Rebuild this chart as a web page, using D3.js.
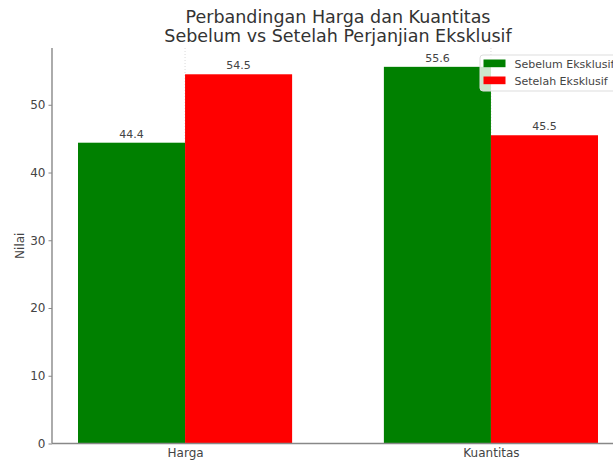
<!DOCTYPE html>
<html>
<head>
<meta charset="utf-8">
<script src="https://cdn.jsdelivr.net/npm/d3@7"></script>
<style>
  html, body { margin: 0; padding: 0; background: #fff; overflow: hidden; }
  svg { display: block; font-family: "DejaVu Sans", sans-serif; }
</style>
</head>
<body>
<svg id="chart" width="613" height="461"></svg>
<script>
const categories = ["Harga", "Kuantitas"];
const seriesNames = ["Sebelum Eksklusif", "Setelah Eksklusif"];
const sebelum = [44.4, 55.6];
const setelah = [54.5, 45.5];
const seriesColors = ["#008000", "#ff0000"];
const yTicks = [0, 10, 20, 30, 40, 50];
const titleLines = ["Perbandingan Harga dan Kuantitas", "Sebelum vs Setelah Perjanjian Eksklusif"];
const yLabel = "Nilai";

(function () {
const svg = d3.select("#chart");
const pLeft = 52, pRight = 624, pTop = 48, pBottom = 443.5;
const barW = 0.35;
const series = [sebelum, setelah];

const yMax = d3.max(series.flat()) * 1.05;
const y = d3.scaleLinear().domain([0, yMax]).range([pBottom, pTop]);
const span = categories.length - 1 + 2 * barW;
const x = d3.scaleLinear()
  .domain([-barW - 0.05 * span, categories.length - 1 + barW + 0.05 * span])
  .range([pLeft, pRight]);

// vertical dotted grid at category ticks
svg.append("g").selectAll("line").data(categories).join("line")
  .attr("x1", (d, i) => x(i)).attr("x2", (d, i) => x(i))
  .attr("y1", pTop).attr("y2", pBottom)
  .attr("stroke", "#cfcfcf").attr("stroke-width", 0.8)
  .attr("stroke-dasharray", "1,2");

// bars
series.forEach((vals, s) => {
  const off = s === 0 ? -barW : 0;
  svg.append("g").selectAll("rect").data(vals).join("rect")
    .attr("x", (d, i) => x(i + off))
    .attr("width", (d, i) => x(i + off + barW) - x(i + off))
    .attr("y", d => y(d))
    .attr("height", d => y(0) - y(d))
    .attr("fill", seriesColors[s]);
  svg.append("g").selectAll("text").data(vals).join("text")
    .attr("x", (d, i) => x(i + off + barW / 2))
    .attr("y", d => y(d) - 5)
    .attr("text-anchor", "middle")
    .attr("font-size", 11)
    .attr("fill", "#444")
    .text(d => d.toFixed(1));
});

// y axis
const yAxis = d3.axisLeft(y).tickValues(yTicks).tickSize(3.5).tickPadding(3).tickFormat(d3.format("d"));
const gy = svg.append("g").attr("transform", `translate(${pLeft},0)`).call(yAxis);
gy.select(".domain").remove();
gy.selectAll(".tick line").attr("stroke", "#888");
gy.selectAll(".tick text").attr("font-size", 12).attr("fill", "#444").attr("font-family", "DejaVu Sans, sans-serif");

// x axis
const xAxis = d3.axisBottom(x).tickValues(categories.map((d, i) => i)).tickSize(0).tickPadding(5)
  .tickFormat(i => categories[i]);
const gx = svg.append("g").attr("transform", `translate(0,${pBottom})`).call(xAxis);
gx.select(".domain").remove();
gx.selectAll(".tick text").attr("font-size", 12).attr("fill", "#444").attr("font-family", "DejaVu Sans, sans-serif");

// spines
svg.append("line").attr("x1", pLeft).attr("x2", pLeft).attr("y1", pTop).attr("y2", pBottom)
  .attr("stroke", "#888").attr("stroke-width", 1.4);
svg.append("line").attr("x1", pLeft).attr("x2", pRight).attr("y1", pBottom).attr("y2", pBottom)
  .attr("stroke", "#888").attr("stroke-width", 1.4);

// y label
svg.append("text")
  .attr("transform", `translate(23.5,${(pTop + pBottom) / 2}) rotate(-90)`)
  .attr("text-anchor", "middle")
  .attr("font-size", 12).attr("fill", "#444")
  .text(yLabel);

// title
svg.append("g").selectAll("text").data(titleLines).join("text")
  .attr("x", (pLeft + pRight) / 2)
  .attr("y", (d, i) => 23 + i * 18.8)
  .attr("text-anchor", "middle")
  .attr("font-size", 17.5).attr("fill", "#333")
  .text(d => d);

// legend
const lg = svg.append("g").attr("transform", "translate(480,55)");
lg.append("rect").attr("width", 138).attr("height", 36).attr("rx", 3)
  .attr("fill", "#fff").attr("fill-opacity", 0.8)
  .attr("stroke", "#ddd").attr("stroke-width", 1);
const items = lg.selectAll("g.item").data(seriesNames).join("g")
  .attr("transform", (d, i) => `translate(0,${i * 17})`);
items.append("rect").attr("x", 3.5).attr("y", 4.5).attr("width", 22).attr("height", 7.7)
  .attr("fill", (d, i) => seriesColors[i]);
items.append("text").attr("x", 34.5).attr("y", 12.5)
  .attr("font-size", 11).attr("fill", "#444")
  .text(d => d);
})();
</script>
</body>
</html>
